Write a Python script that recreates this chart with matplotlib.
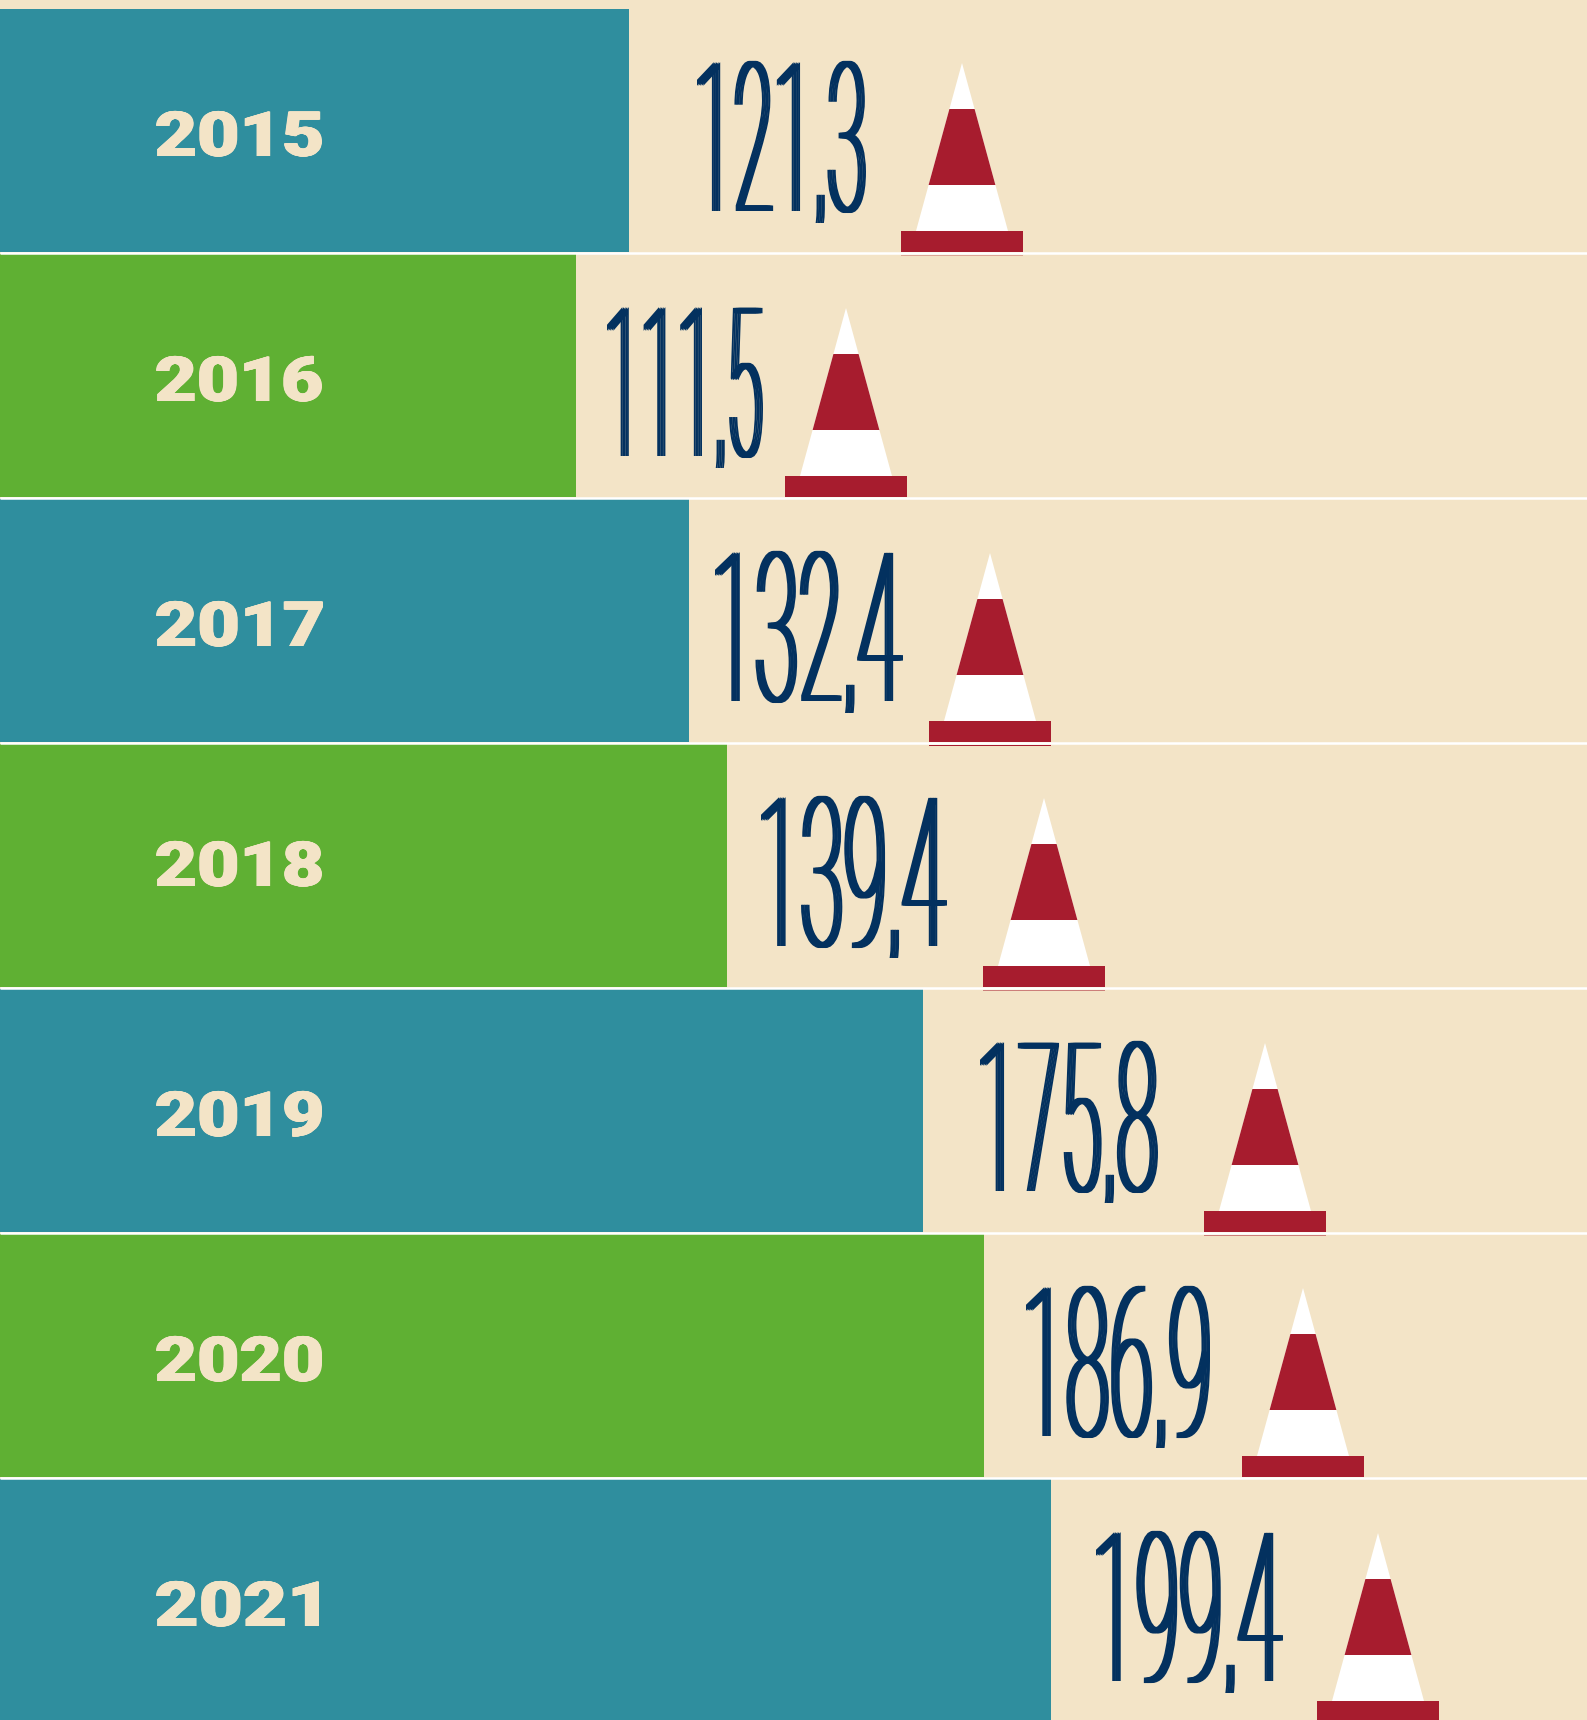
import matplotlib
matplotlib.use('Agg')
import matplotlib.pyplot as plt
import matplotlib.patheffects as pe
from matplotlib.patches import Rectangle
from matplotlib.transforms import Affine2D

years = ['2015', '2016', '2017', '2018', '2019', '2020', '2021']
values = ['121,3', '111,5', '132,4', '139,4', '175,8', '186,9', '199,4']
# bar lengths (not quite proportional to the labels)
bar_len = [629, 576, 689, 726.5, 923, 983.5, 1051]
bar_col = ['#2F8E9E', '#5FB033', '#2F8E9E', '#5FB033', '#2F8E9E', '#5FB033', '#2F8E9E']

num_left = [697, 607, 715, 761, 980, 1026, 1096]
num_right = [866, 763, 903, 947, 1158, 1210, 1283]
year_right = [322, 322, 323, 322, 322, 322, 319]
cone_x = [962, 846, 990, 1044, 1265, 1303, 1378]
year_shift = [0, 0, 0, -5, 0, 0, 0]
# red sliver left under the white rule by some cones
sliver = [0.3, 0, 1, 0.5, 0.5, 0, 0]

BG = '#F3E4C7'
NAVY = '#03315F'
RED = '#A71C2E'
top0 = 9
pitch = 245
row_h = 243


class Fit(pe.AbstractPathEffect):
    # no condensed (or extended) font here, so scale the glyphs to the measured width
    def __init__(self, left, right, bold=0.0):
        self.left = left
        self.right = right
        self.bold = bold

    def draw_path(self, renderer, gc, tpath, affine, rgbFace=None):
        box = tpath.get_extents(affine)
        k = (self.right - self.left - 2 * self.bold) / box.width
        t = affine + Affine2D().translate(-box.x0, 0).scale(k, 1).translate(self.left + self.bold, 0)
        for off in [-self.bold, -self.bold / 2, 0, self.bold / 2, self.bold]:
            renderer.draw_path(gc, tpath, t + Affine2D().translate(off, 0), rgbFace)


fig = plt.figure(figsize=(15.87, 17.20), dpi=100, facecolor=BG)
ax = fig.add_axes([0, 0, 1, 1])
ax.set_xlim(0, 1587)
ax.set_ylim(1720, 0)
ax.axis('off')

centers = [top0 + pitch * i + row_h / 2 for i in range(len(years))]
ax.barh(centers, bar_len, height=row_h, color=bar_col, linewidth=0)

for i in range(len(years)):
    top = top0 + pitch * i
    if i < len(years) - 1:
        ax.plot([0, 1587], [top + row_h + 1.2] * 2, color='white', lw=1.8, solid_capstyle='butt', zorder=4)
    ax.text(238, top + 147 + year_shift[i], years[i], color=BG, fontsize=45, fontweight='black',
            family='Roboto', ha='center', va='baseline', zorder=5,
            path_effects=[Fit(156, year_right[i], bold=0.8)])
    t = ax.text((num_left[i] + num_right[i]) / 2, top + 202, values[i], color=NAVY, fontsize=150,
                fontweight='light', family='Roboto', ha='center', va='baseline', zorder=5,
                path_effects=[Fit(num_left[i], num_right[i], bold=3.2)])
    # the comma tail is much shorter in the original
    t.set_clip_path(Rectangle((0, top), 1587, 214, transform=ax.transData))
    t.set_clip_on(True)
    # traffic cone
    cx = cone_x[i]
    ax.fill([cx, cx + 46, cx - 46], [top + 54, top + 222, top + 222], color='white', lw=0, zorder=5)
    s1 = 46 * (100 - 54) / 168
    s2 = 46 * (176 - 54) / 168
    ax.fill([cx - s1, cx + s1, cx + s2, cx - s2], [top + 100, top + 100, top + 176, top + 176],
            color=RED, lw=0, zorder=6)
    ax.fill([cx - 61, cx + 61, cx + 61, cx - 61], [top + 222, top + 222, top + row_h, top + row_h],
            color=RED, lw=0, zorder=6)
    if sliver[i] > 0:
        ax.fill([cx - 61, cx + 61, cx + 61, cx - 61], [top + 246, top + 246, top + 247, top + 247],
                color=RED, alpha=sliver[i], lw=0, zorder=6)

fig.savefig('out.png', dpi=100, facecolor=BG)
